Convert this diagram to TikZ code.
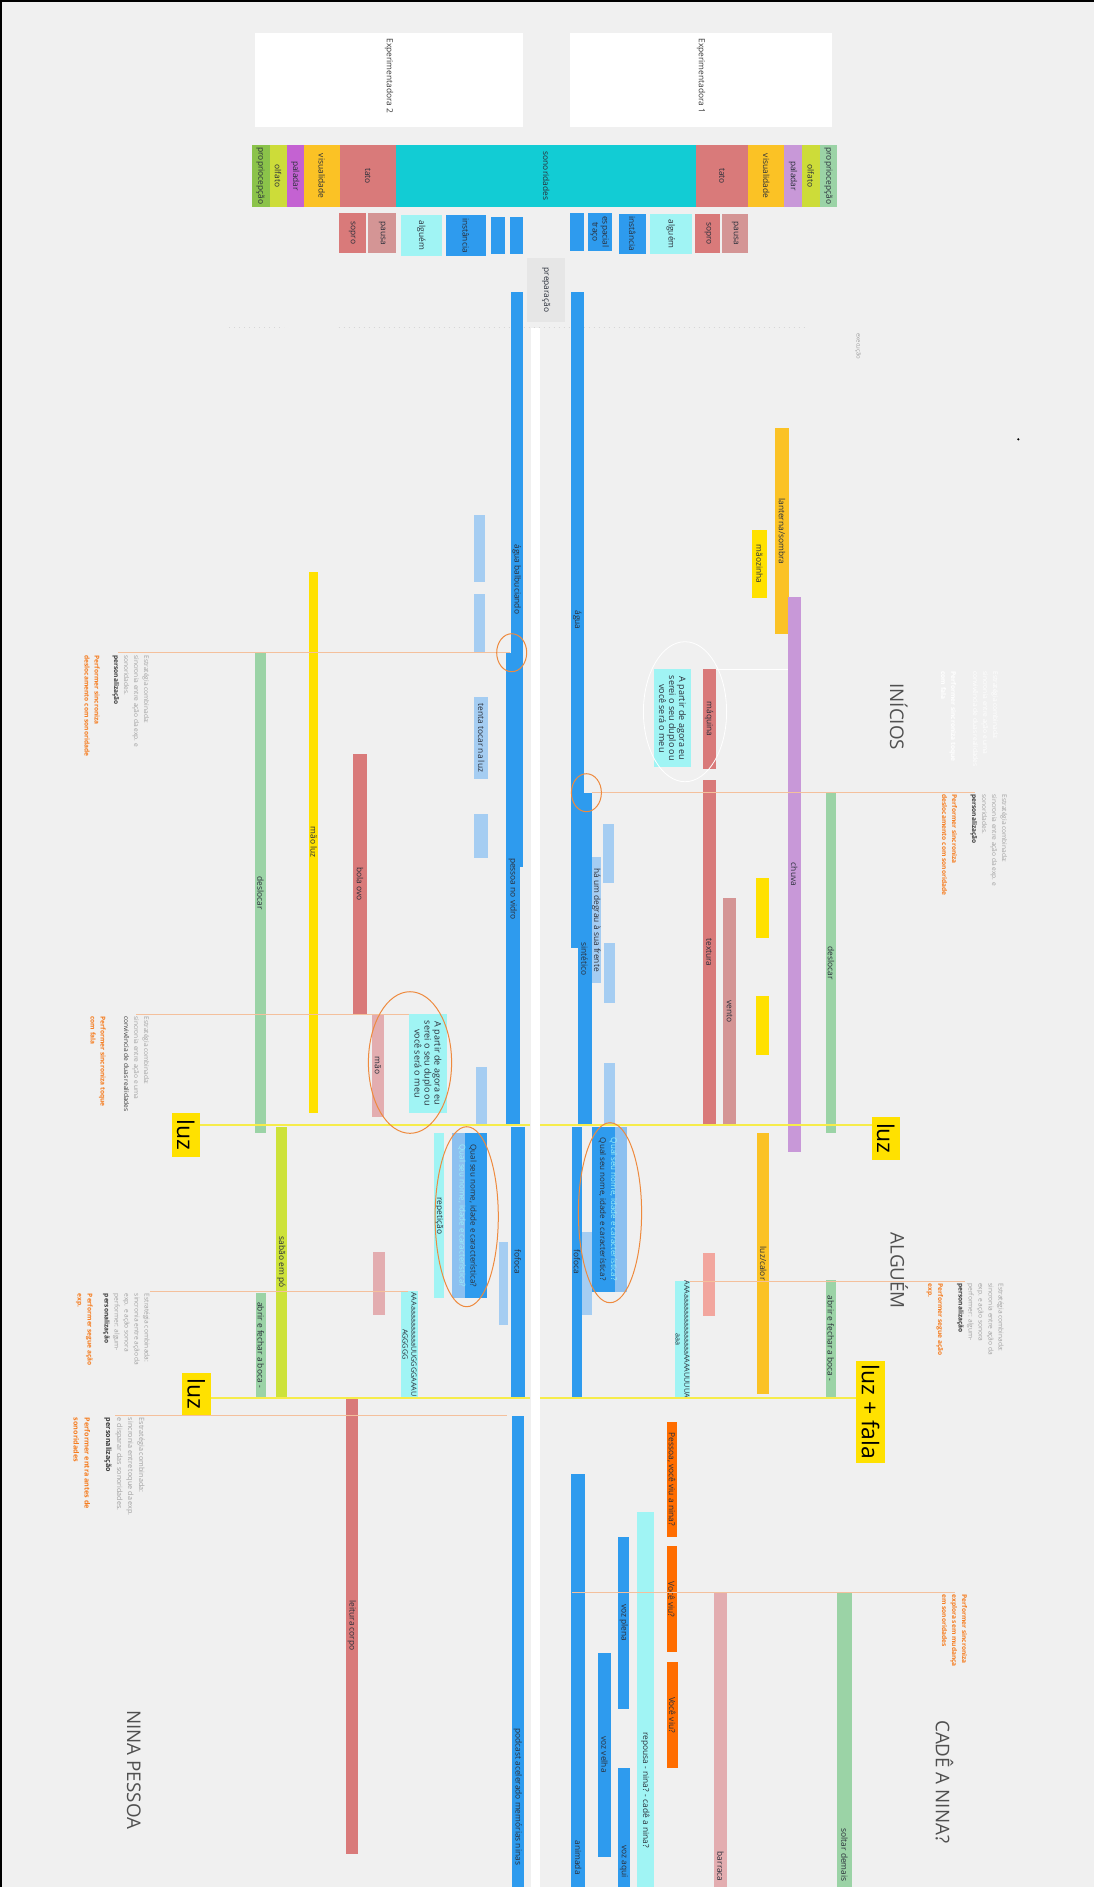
\documentclass[tikz,border=0pt]{standalone}
\usepackage{fontspec}
\setmainfont{Open Sans}
\usepackage{tikz}
\definecolor{bg}{HTML}{F0F0F0}
\definecolor{blu}{HTML}{2E9BEE}
\definecolor{lblu}{HTML}{A5CDF2}
\definecolor{mblu}{HTML}{8CC0F0}
\definecolor{cyanl}{HTML}{A0F4F4}
\definecolor{cyant}{HTML}{9AF0FA}
\definecolor{sono}{HTML}{12CCD4}
\definecolor{tato}{HTML}{D97A7A}
\definecolor{pausa}{HTML}{D49595}
\definecolor{pinkr}{HTML}{E3ADB0}
\definecolor{salmon}{HTML}{F2A69E}
\definecolor{amber}{HTML}{FBC225}
\definecolor{luzyel}{HTML}{FFE100}
\definecolor{lineyel}{HTML}{F6EC4A}
\definecolor{palA}{HTML}{C462D2}
\definecolor{palB}{HTML}{C898D8}
\definecolor{propA}{HTML}{8BC34A}
\definecolor{propB}{HTML}{9BD3A6}
\definecolor{olfato}{HTML}{CDDC39}
\definecolor{limeg}{HTML}{CDE23A}
\definecolor{fala}{HTML}{FF6D00}
\definecolor{prepgray}{HTML}{E6E6E6}
\definecolor{ink}{HTML}{2A2F3A}
\definecolor{notegray}{HTML}{A0A0A0}
\definecolor{notedark}{HTML}{3A3A3A}
\definecolor{perfor}{HTML}{F57C1F}
\definecolor{cueorange}{HTML}{F4C09C}
\definecolor{ringorange}{HTML}{EE8A3E}
\definecolor{titlegray}{HTML}{505050}
\definecolor{dotgray}{HTML}{D6D6D6}
% one timeline segment: name, style, x1, y1, x2, y2, label (pixel units)
\newcommand{\tlseg}[7]{%
  \node[seg, #2, minimum width={(#6-#4)*0.5pt}, minimum height={(#5-#3)*0.5pt}]
    (#1) at ({(#3+#5)/2},{(#4+#6)/2}) {#7};}

\begin{document}
\begin{tikzpicture}[
    x=0.5pt, y=-0.5pt,
    seg/.style={rectangle, rotate=-90, inner sep=0pt, outer sep=0pt, align=center,
      font=\fontsize{4.2}{5}\selectfont, text=ink},
    lbl/.style={rotate=-90, inner sep=0pt, font=\fontsize{4.2}{5}\selectfont, text=ink},
    note/.style={rotate=-90, anchor=north west, inner sep=0pt, align=left,
      font=\fontsize{3.3}{5}\selectfont, text=notegray},
    hint/.style={note, text=perfor, font=\fontsize{3.3}{5}\selectfont\bfseries},
    title/.style={rotate=-90, inner sep=0pt, font=\fontsize{9.4}{11}\selectfont, text=titlegray},
    luzbox/.style={fill=luzyel, font=\fontsize{11.5}{13}\selectfont, text=black},
    cue/.style={draw=cueorange, line width=0.5pt},
    luzline/.style={draw=lineyel, line width=1pt},
    ring/.style={draw=ringorange, line width=0.5pt},
    dots/.style={draw=dotgray, line width=0.5pt, dotted}
  ]
  \path[use as bounding box, clip] (0,0) rectangle (1094,1887);
  \fill[black] (0,0) rectangle (1094,1887);
  \fill[bg] (2,2) rectangle (1094,1887);

  % Experimentadoras
  \tlseg{expB}{fill=white}{254.5}{32.7}{523.2}{126.7}{}
  \tlseg{expA}{fill=white}{570}{32.7}{832.4}{126.7}{}
  \node[lbl, anchor=west, text=notedark] (expBt) at (389,38) {Experimentadora 2};
  \node[lbl, anchor=west, text=notedark] (expAt) at (701,38) {Experimentadora 1};

  % Header row
  \tlseg{propL}{fill=propA}{251.5}{145}{269.5}{207}{propriocepção}
  \tlseg{olfL}{fill=olfato}{269.5}{145}{286.7}{207}{olfato}
  \tlseg{palL}{fill=palA}{286.7}{145}{303.9}{207}{paladar}
  \tlseg{visL}{fill=amber}{303.9}{145}{339.5}{207}{visualidade}
  \tlseg{tatL}{fill=tato}{339.5}{145}{396.1}{207}{tato}
  \tlseg{sono}{fill=sono}{396.1}{145}{696.2}{207}{sonoridades}
  \tlseg{tatR}{fill=tato}{696.2}{145}{748.2}{207}{tato}
  \tlseg{visR}{fill=amber}{748.2}{145}{784.2}{207}{visualidade}
  \tlseg{palR}{fill=palB}{784.2}{145}{801.8}{207}{paladar}
  \tlseg{olfR}{fill=olfato}{801.8}{145}{819.8}{207}{olfato}
  \tlseg{propR}{fill=propB}{819.8}{145}{837}{207}{propriocepção}

  % Sub row
  \tlseg{sopL}{fill=tato}{338.7}{213}{365.5}{253}{sopro}
  \tlseg{pauL}{fill=pausa}{368.2}{213}{396.1}{253}{pausa}
  \tlseg{algL}{fill=cyanl}{400.7}{215}{442}{256}{alguém}
  \tlseg{insL}{fill=blu}{445.9}{215}{485.7}{256}{instância}
  \tlseg{bxA}{fill=blu}{491}{217}{504.8}{254}{}
  \tlseg{bxB}{fill=blu}{509.8}{217}{523.2}{254}{}
  \tlseg{bxC}{fill=blu}{569.9}{213}{583.7}{251}{}
  \tlseg{espR}{fill=blu}{587.5}{213}{612}{251}{espacial\\traço}
  \tlseg{insR}{fill=blu}{618.9}{214}{645.7}{254}{instância}
  \tlseg{algR}{fill=cyanl}{649.5}{214}{692.4}{254}{alguém}
  \tlseg{sopR}{fill=tato}{695.4}{214}{720.3}{253}{sopro}
  \tlseg{pauR}{fill=pausa}{722.2}{214}{748.2}{253}{pausa}
  \tlseg{prep}{fill=prepgray}{527}{258}{565.3}{322}{preparação}

  \coordinate (dotA) at (229,327);
  \coordinate (dotB) at (284,327);
  \coordinate (dotC) at (338.7,327);
  \coordinate (dotD) at (806,327);
  \draw[dots] (dotA) -- (dotB) (dotC) -- (dotD);
  \node[lbl, anchor=west, text=notegray, font=\fontsize{3}{4}\selectfont] (exec) at (858,333) {execução};
  \fill (1018.3,439.3) circle (0.6pt);

  % Centre strip
  \tlseg{gap}{fill=white}{531}{328}{540}{1887}{}

  % Sound tracks
  \tlseg{aguaL}{fill=blu}{510.6}{292}{523.2}{866.7}{água balbuciando}
  \tlseg{vidro}{fill=blu}{505.5}{653}{520}{1125}{pessoa no vidro}
  \tlseg{aguaR}{fill=blu}{571}{292}{583.7}{948}{água}
  \tlseg{sint}{fill=blu}{577.5}{792.7}{591.8}{1125}{sintético}
  \tlseg{fofL}{fill=blu}{510.7}{1126.7}{525}{1396.7}{fofoca}
  \tlseg{fofR}{fill=blu}{571.7}{1126.7}{582.3}{1396.7}{fofoca}
  \tlseg{podc}{fill=blu}{511.7}{1415.7}{524}{1887}{}
  \node[lbl, anchor=west] (podct) at (517.85,1728) {podcast acelerado memórias ninas};
  \tlseg{anim}{fill=blu}{571}{1474}{585.3}{1887}{}
  \node[lbl, anchor=west] (animt) at (578.2,1840) {animada};
  \tlseg{vozV}{fill=blu}{598.4}{1652.7}{610.5}{1856.7}{voz velha}
  \tlseg{vozP}{fill=blu}{618.4}{1536.7}{629}{1709}{voz plena}
  \tlseg{vozQ}{fill=blu}{618.4}{1768.3}{629.7}{1887}{}
  \node[lbl, anchor=west] (vozQt) at (624,1845) {voz aqui};

  \tlseg{lbA}{fill=lblu}{474}{515}{485.3}{581.7}{}
  \tlseg{lbB}{fill=lblu}{474}{594}{485.3}{652.7}{}
  \tlseg{lbC}{fill=lblu}{474}{696.7}{488.3}{779.3}{tenta tocar na luz}
  \tlseg{lbD}{fill=lblu}{474}{814}{488.3}{858.3}{}
  \tlseg{lbE}{fill=lblu}{475.7}{1067}{487.3}{1125}{}
  \tlseg{lbF}{fill=lblu}{602.5}{824}{614}{883.3}{}
  \tlseg{lbG}{fill=lblu}{591.8}{856.7}{600.7}{983.3}{há um degrau à sua frente}
  \tlseg{lbH}{fill=lblu}{603.6}{943.3}{615}{1002.7}{}
  \tlseg{lbI}{fill=lblu}{603.6}{1062.7}{615}{1125}{}
  \tlseg{lbJ}{fill=lblu}{499.3}{1242.3}{508.3}{1325}{}
  \tlseg{lbK}{fill=lblu}{582.3}{1231.7}{591.7}{1315}{}

  % Question boxes
  \tlseg{qualLo}{fill=mblu}{451.7}{1133.3}{486.7}{1298.3}{}
  \tlseg{qualLi}{fill=blu}{465}{1133.3}{486.7}{1298.3}{}
  \node[lbl, align=center, font=\fontsize{4}{5.5}\selectfont] (qualLt) at (467.4,1215.8)
    {Qual seu nome, idade e característica?\\\textcolor{cyant}{Qual seu nome, idade e característica?}};
  \tlseg{qualRo}{fill=mblu}{591.7}{1126.7}{626.7}{1291.7}{}
  \tlseg{qualRi}{fill=blu}{591.7}{1126.7}{615}{1291.7}{}
  \node[lbl, align=center, font=\fontsize{4}{5.5}\selectfont] (qualRt) at (608,1209.2)
    {\textcolor{cyant}{Qual seu nome, idade e característica?}\\Qual seu nome, idade e característica?};

  % Voice tracks
  \tlseg{rep}{fill=cyanl}{434.3}{1133.3}{444.3}{1298.3}{repetição}
  \tlseg{grL}{fill=cyanl, font=\fontsize{3.6}{4.4}\selectfont}{401}{1291}{418.3}{1397.7}{AAAaaaaaaaaaaUUGGGGAAAU\\AGGGGG}
  \tlseg{grR}{fill=cyanl, font=\fontsize{3.6}{4.4}\selectfont}{675}{1281.7}{690}{1396.7}{AAAaaaaaaaaaaaaaaaAAAAUUUUA\\aaa}
  \tlseg{dupL}{fill=cyanl, font=\fontsize{4.5}{5}\selectfont}{409.3}{1014}{446.7}{1112.7}{A partir de agora eu\\serei o seu duplo ou\\você será o meu}
  \tlseg{dupR}{fill=cyanl, font=\fontsize{4.5}{5}\selectfont}{654}{669.3}{691}{767.3}{A partir de agora eu\\serei o seu duplo ou\\você será o meu}
  \tlseg{repo}{fill=cyanl}{636.7}{1511.7}{654}{1887}{}
  \node[lbl, anchor=west] (repot) at (645.3,1731.7) {repousa - nina? - cadê a nina?};
  \tlseg{vcA}{fill=fala}{666.5}{1421.7}{676.8}{1536.7}{Pessoa, você viu a nina?}
  \tlseg{vcB}{fill=fala}{666.5}{1546}{676.8}{1652.3}{Você viu?}
  \tlseg{vcC}{fill=fala}{666.6}{1661.7}{677.8}{1768.3}{Você viu?}

  % Touch tracks
  \tlseg{maq}{fill=tato}{702.5}{669.3}{715.7}{769}{máquina}
  \tlseg{textu}{fill=tato}{702.5}{780}{715.7}{1125}{textura}
  \tlseg{vento}{fill=pausa}{722.9}{898.3}{736.4}{1125}{vento}
  \tlseg{bola}{fill=tato}{352.7}{754.3}{367.3}{1014}{bola ovo}
  \tlseg{mao}{fill=pinkr}{372}{1014}{384}{1116.7}{mão}
  \tlseg{pkL}{fill=pinkr}{373.3}{1251.7}{385}{1315}{}
  \tlseg{salR}{fill=salmon}{703.3}{1252.7}{715}{1316}{}
  \tlseg{leit}{fill=tato}{345.7}{1397.3}{357.7}{1854}{leitura corpo}
  \tlseg{barr}{fill=pinkr}{714.3}{1591.7}{726.8}{1887}{}
  \node[lbl, anchor=east] (barrt) at (720.5,1882) {barraca};

  % Light, taste and movement tracks
  \tlseg{maoluz}{fill=luzyel}{309.3}{571.7}{318.3}{1112.7}{mão luz}
  \tlseg{ylA}{fill=luzyel}{756}{878.3}{769.3}{937.7}{}
  \tlseg{ylB}{fill=luzyel}{756}{995.7}{769.3}{1055}{}
  \tlseg{maoz}{fill=luzyel}{752.3}{530}{766.7}{597.7}{mãozinha}
  \tlseg{lant}{fill=amber}{775}{428.3}{789}{634.3}{lanterna/sombra}
  \tlseg{calor}{fill=amber}{757.3}{1133.3}{769.3}{1394}{luz/calor}
  \tlseg{chuva}{fill=palB}{788.2}{597.3}{800.5}{1151.7}{chuva}
  \tlseg{deslL}{fill=propB}{255}{653.3}{266}{1133.3}{deslocar}
  \tlseg{bocaL}{fill=propB}{255.7}{1293.3}{265.7}{1396.7}{abrir e fechar a boca -}
  \tlseg{deslR}{fill=propB}{826.4}{792.7}{835.7}{1133.3}{deslocar}
  \tlseg{bocaR}{fill=propB}{825.7}{1280}{835.7}{1397.3}{abrir e fechar a boca -}
  \tlseg{solt}{fill=propB}{836.9}{1591.7}{851.9}{1887}{}
  \node[lbl, anchor=east] (soltt) at (844.4,1882) {soltar demais};
  \tlseg{sabao}{fill=limeg}{276}{1126.7}{286.7}{1397.7}{sabão em pó}

  % Light cues
  \tlseg{luzA}{luzbox}{171.7}{1113.3}{200}{1156.7}{luz}
  \tlseg{luzB}{luzbox}{871.7}{1116.7}{900}{1160}{luz}
  \tlseg{luzC}{luzbox}{181.7}{1372.7}{210.7}{1415}{luz}
  \tlseg{luzD}{luzbox}{856}{1361}{885}{1462.7}{luz + fala}
  \coordinate (ya1) at (200,1125);
  \coordinate (ya2) at (530,1125);
  \coordinate (ya3) at (540,1125);
  \coordinate (ya4) at (871.7,1125);
  \coordinate (yb1) at (210.7,1397.7);
  \coordinate (yb2) at (530,1397.7);
  \coordinate (yb3) at (540,1397.7);
  \coordinate (yb4) at (856,1397.7);
  \draw[luzline] (ya1) -- (ya2) (ya3) -- (ya4);
  \draw[luzline] (yb1) -- (yb2) (yb3) -- (yb4);

  % Strategy cues
  \coordinate (c1a) at (118,652.7);   \coordinate (c1b) at (510,652.7);
  \coordinate (c2a) at (136,1014.3);  \coordinate (c2b) at (409.3,1014.3);
  \coordinate (c3a) at (150,1291.7);  \coordinate (c3b) at (408.3,1291.7);
  \coordinate (c4a) at (115,1415.7);  \coordinate (c4b) at (506.7,1415.7);
  \coordinate (c5a) at (591.8,792.7); \coordinate (c5b) at (974.6,792.7);
  \coordinate (c6a) at (690,1281);    \coordinate (c6b) at (965,1281);
  \coordinate (c7a) at (572,1592.3);  \coordinate (c7b) at (955,1592.3);
  \draw[cue] (c1a) -- (c1b);
  \draw[cue] (c2a) -- (c2b);
  \draw[cue] (c3a) -- (c3b);
  \draw[cue] (c4a) -- (c4b);
  \draw[cue] (c5a) -- (c5b);
  \draw[cue] (c6a) -- (c6b);
  \draw[cue] (c7a) -- (c7b);
  \coordinate (wl1) at (715.7,669.3);
  \coordinate (wl2) at (788.2,669.3);
  \draw[white, line width=0.4pt] (wl1) -- (wl2);

  \draw[ring] (511.7,652.7) ellipse [x radius=7.5pt, y radius=9.5pt];
  \draw[ring] (586.4,792.7) ellipse [x radius=7.5pt, y radius=9.5pt];
  \draw[ring] (410,1062.5) ellipse [x radius=20.8pt, y radius=35.4pt];
  \draw[ring] (466.7,1216.7) ellipse [x radius=15.8pt, y radius=45pt];
  \draw[ring] (610,1212.7) ellipse [x radius=15.8pt, y radius=45pt];
  \draw[white, line width=0.4pt] (685,711.7) ellipse [x radius=20.8pt, y radius=35pt];

  % Strategy notes
  \node[note] (estA) at (149.5,655) {Estratégia combinada:\\sincronia entre ação da exp. e\\sonoridades.\\\textcolor{notedark}{\bfseries personalização}};
  \node[hint] (perfA) at (100,655) {Performer sincroniza\\deslocamento com sonoridade};
  \node[note] (estB) at (149.5,1016) {Estratégia combinada:\\sincronia entre ação e uma\\\textcolor{notedark}{convivência de duas realidades}};
  \node[hint] (perfB) at (106,1016) {Performer sincroniza toque\\com fala};
  \node[note] (estC) at (150,1293.5) {Estratégia combinada:\\sincronia entre ação da\\exp. e ação sonora\\performer: algum-\\\textcolor{notedark}{\bfseries personalização}};
  \node[hint] (perfC) at (93,1293.5) {Performer segue ação\\exp.};
  \node[note, font=\fontsize{3.6}{5.5}\selectfont] (estD) at (145,1417.5) {Estratégia combinada:\\sincronia entre toque da exp.\\e disparar das sonoridades.\\\textcolor{notedark}{\bfseries personalização}};
  \node[hint, font=\fontsize{3.6}{5.5}\selectfont\bfseries] (perfD) at (90.5,1417.5) {Performer entra antes de\\sonoridades};
  \node[note, text=white] (estW) at (998.5,671) {Estratégia combinada:\\sincronia entre ação e uma\\convivência de duas realidades};
  \node[hint, text=white] (perfW) at (956.5,671) {Performer sincroniza toque\\com fala};
  \node[note] (estE) at (1007.5,794) {Estratégia combinada:\\sincronia entre ação da exp. e\\sonoridades.\\\textcolor{notedark}{\bfseries personalização}};
  \node[hint] (perfE) at (957.5,794) {Performer sincroniza\\deslocamento com sonoridade};
  \node[note] (estF) at (1004,1283) {Estratégia combinada:\\sincronia entre ação da\\exp. e ação sonora\\performer: algum-\\\textcolor{notedark}{\bfseries personalização}};
  \node[hint] (perfF) at (943.5,1283) {Performer segue ação\\exp.};
  \node[hint] (perfG) at (967.5,1594) {Performer sincroniza\\explora sem mudança\\em sonoridades};

  % Section titles
  \node[title] (inic) at (898.7,716.7) {INÍCIOS};
  \node[title] (algm) at (899.2,1270.8) {ALGUÉM};
  \node[title] (nina) at (133.9,1769.7) {NINA PESSOA};
  \node[title] (cade) at (944.4,1781.7) {CADÊ A NINA?};
\end{tikzpicture}
\end{document}
